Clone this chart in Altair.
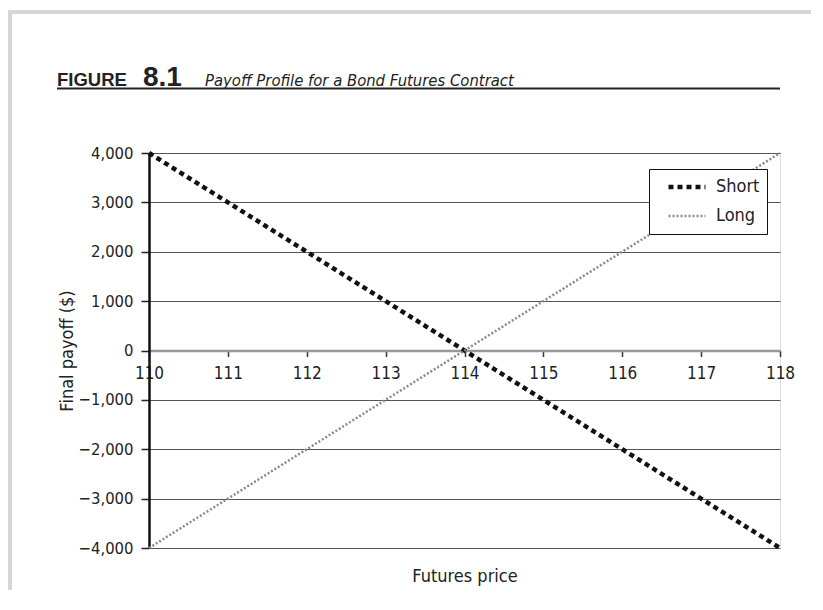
import altair as alt
import pandas as pd

# ---- data ----
prices = [110, 111, 112, 113, 114, 115, 116, 117, 118]
short_payoff = [4000, 3000, 2000, 1000, 0, -1000, -2000, -3000, -4000]
long_payoff = [-4000, -3000, -2000, -1000, 0, 1000, 2000, 3000, 4000]
series_names = ["Short", "Long"]
y_ticks = [-4000, -3000, -2000, -1000, 0, 1000, 2000, 3000, 4000]

rows = []
for name, vals in zip(series_names, [short_payoff, long_payoff]):
    for p, v in zip(prices, vals):
        rows.append({"price": p, "payoff": v, "series": name})
df = pd.DataFrame(rows)

FONT = "Liberation Sans Narrow, DejaVu Sans Condensed, sans-serif"
W, H = 631, 395

x_enc = alt.X(
    "price:Q",
    scale=alt.Scale(domain=[110, 118], nice=False, zero=False),
    axis=alt.Axis(
        values=prices, format="d", offset=-H / 2, grid=False, labelFlush=False,
        domainColor="#999999", domainWidth=2.5,
        tickColor="#333333", tickSize=6, tickWidth=1.5,
        labelPadding=9, labelFontSize=17, labelColor="#222222", labelFont=FONT,
        title="Futures price", titleY=H / 2 + 28, titleBaseline="middle",
        titleFontSize=18, titleFontWeight="normal", titleColor="#222222", titleFont=FONT,
    ),
)
y_enc = alt.Y(
    "payoff:Q",
    scale=alt.Scale(domain=[-4000, 4000], nice=False),
    axis=alt.Axis(
        values=y_ticks, format=",.0f", grid=True, gridColor="#555555", gridWidth=1,
        domainColor="#111111", domainWidth=2.5,
        tickColor="#222222", tickSize=8, tickWidth=1.5,
        labelPadding=8, labelFontSize=16.5, labelColor="#222222", labelFont=FONT,
        title="Final payoff ($)", titleX=-82, titleY=H / 2, titleBaseline="middle",
        titleFontSize=18, titleFontWeight="normal", titleColor="#222222", titleFont=FONT,
    ),
)

legend = alt.Legend(
    title=None, orient="none", legendX=500, legendY=16,
    strokeColor="#111111", fillColor="white", padding=7, symbolOffset=10,
    symbolType="stroke", symbolSize=1369, clipHeight=22, rowPadding=7,
    labelFontSize=18, labelFont=FONT, labelColor="#222222", labelOffset=8,
)

lines = alt.Chart(df).mark_line().encode(
    x=x_enc,
    y=y_enc,
    color=alt.Color("series:N", scale=alt.Scale(domain=series_names, range=["#111111", "#8a8a8a"]), legend=legend),
    strokeDash=alt.StrokeDash("series:N", scale=alt.Scale(domain=series_names, range=[[5, 4], [2, 2]]), legend=legend),
    strokeWidth=alt.StrokeWidth("series:N", scale=alt.Scale(domain=series_names, range=[4.5, 2.5]), legend=legend),
)

one = pd.DataFrame({"k": [0]})

frame_top = alt.Chart(one).mark_rule(color="#d6d6d6", strokeWidth=4).encode(
    x=alt.value(-141), x2=alt.value(720), y=alt.value(-141)
)
frame_left = alt.Chart(one).mark_rule(color="#d6d6d6", strokeWidth=4).encode(
    x=alt.value(-139), y=alt.value(-143), y2=alt.value(520)
)
underline = alt.Chart(one).mark_rule(color="#222222", strokeWidth=2).encode(
    x=alt.value(-92), x2=alt.value(W), y=alt.value(-64.5)
)
t1 = alt.Chart(one).mark_text(
    text="FIGURE", font="Liberation Sans", fontWeight="bold", fontSize=18.5,
    align="left", baseline="alphabetic", color="#222222"
).encode(x=alt.value(-92), y=alt.value(-67))
t2 = alt.Chart(one).mark_text(
    text="8.1", font="Liberation Sans", fontWeight="bold", fontSize=28,
    align="left", baseline="alphabetic", color="#222222"
).encode(x=alt.value(-6), y=alt.value(-67))
t3 = alt.Chart(one).mark_text(
    text="Payoff Profile for a Bond Futures Contract", font=FONT, fontStyle="italic",
    fontSize=16.5, align="left", baseline="alphabetic", color="#222222"
).encode(x=alt.value(56), y=alt.value(-67))

chart = alt.layer(frame_top, frame_left, underline, t1, t2, t3, lines).properties(
    width=W, height=H,
    autosize=alt.AutoSizeParams(type="none"),
    padding={"left": 141, "top": 145, "right": 31, "bottom": 42},
).configure_view(stroke="#111111", strokeWidth=2).configure(background="white")

chart.save("out.html", embed_options={"renderer": "svg", "actions": False})
